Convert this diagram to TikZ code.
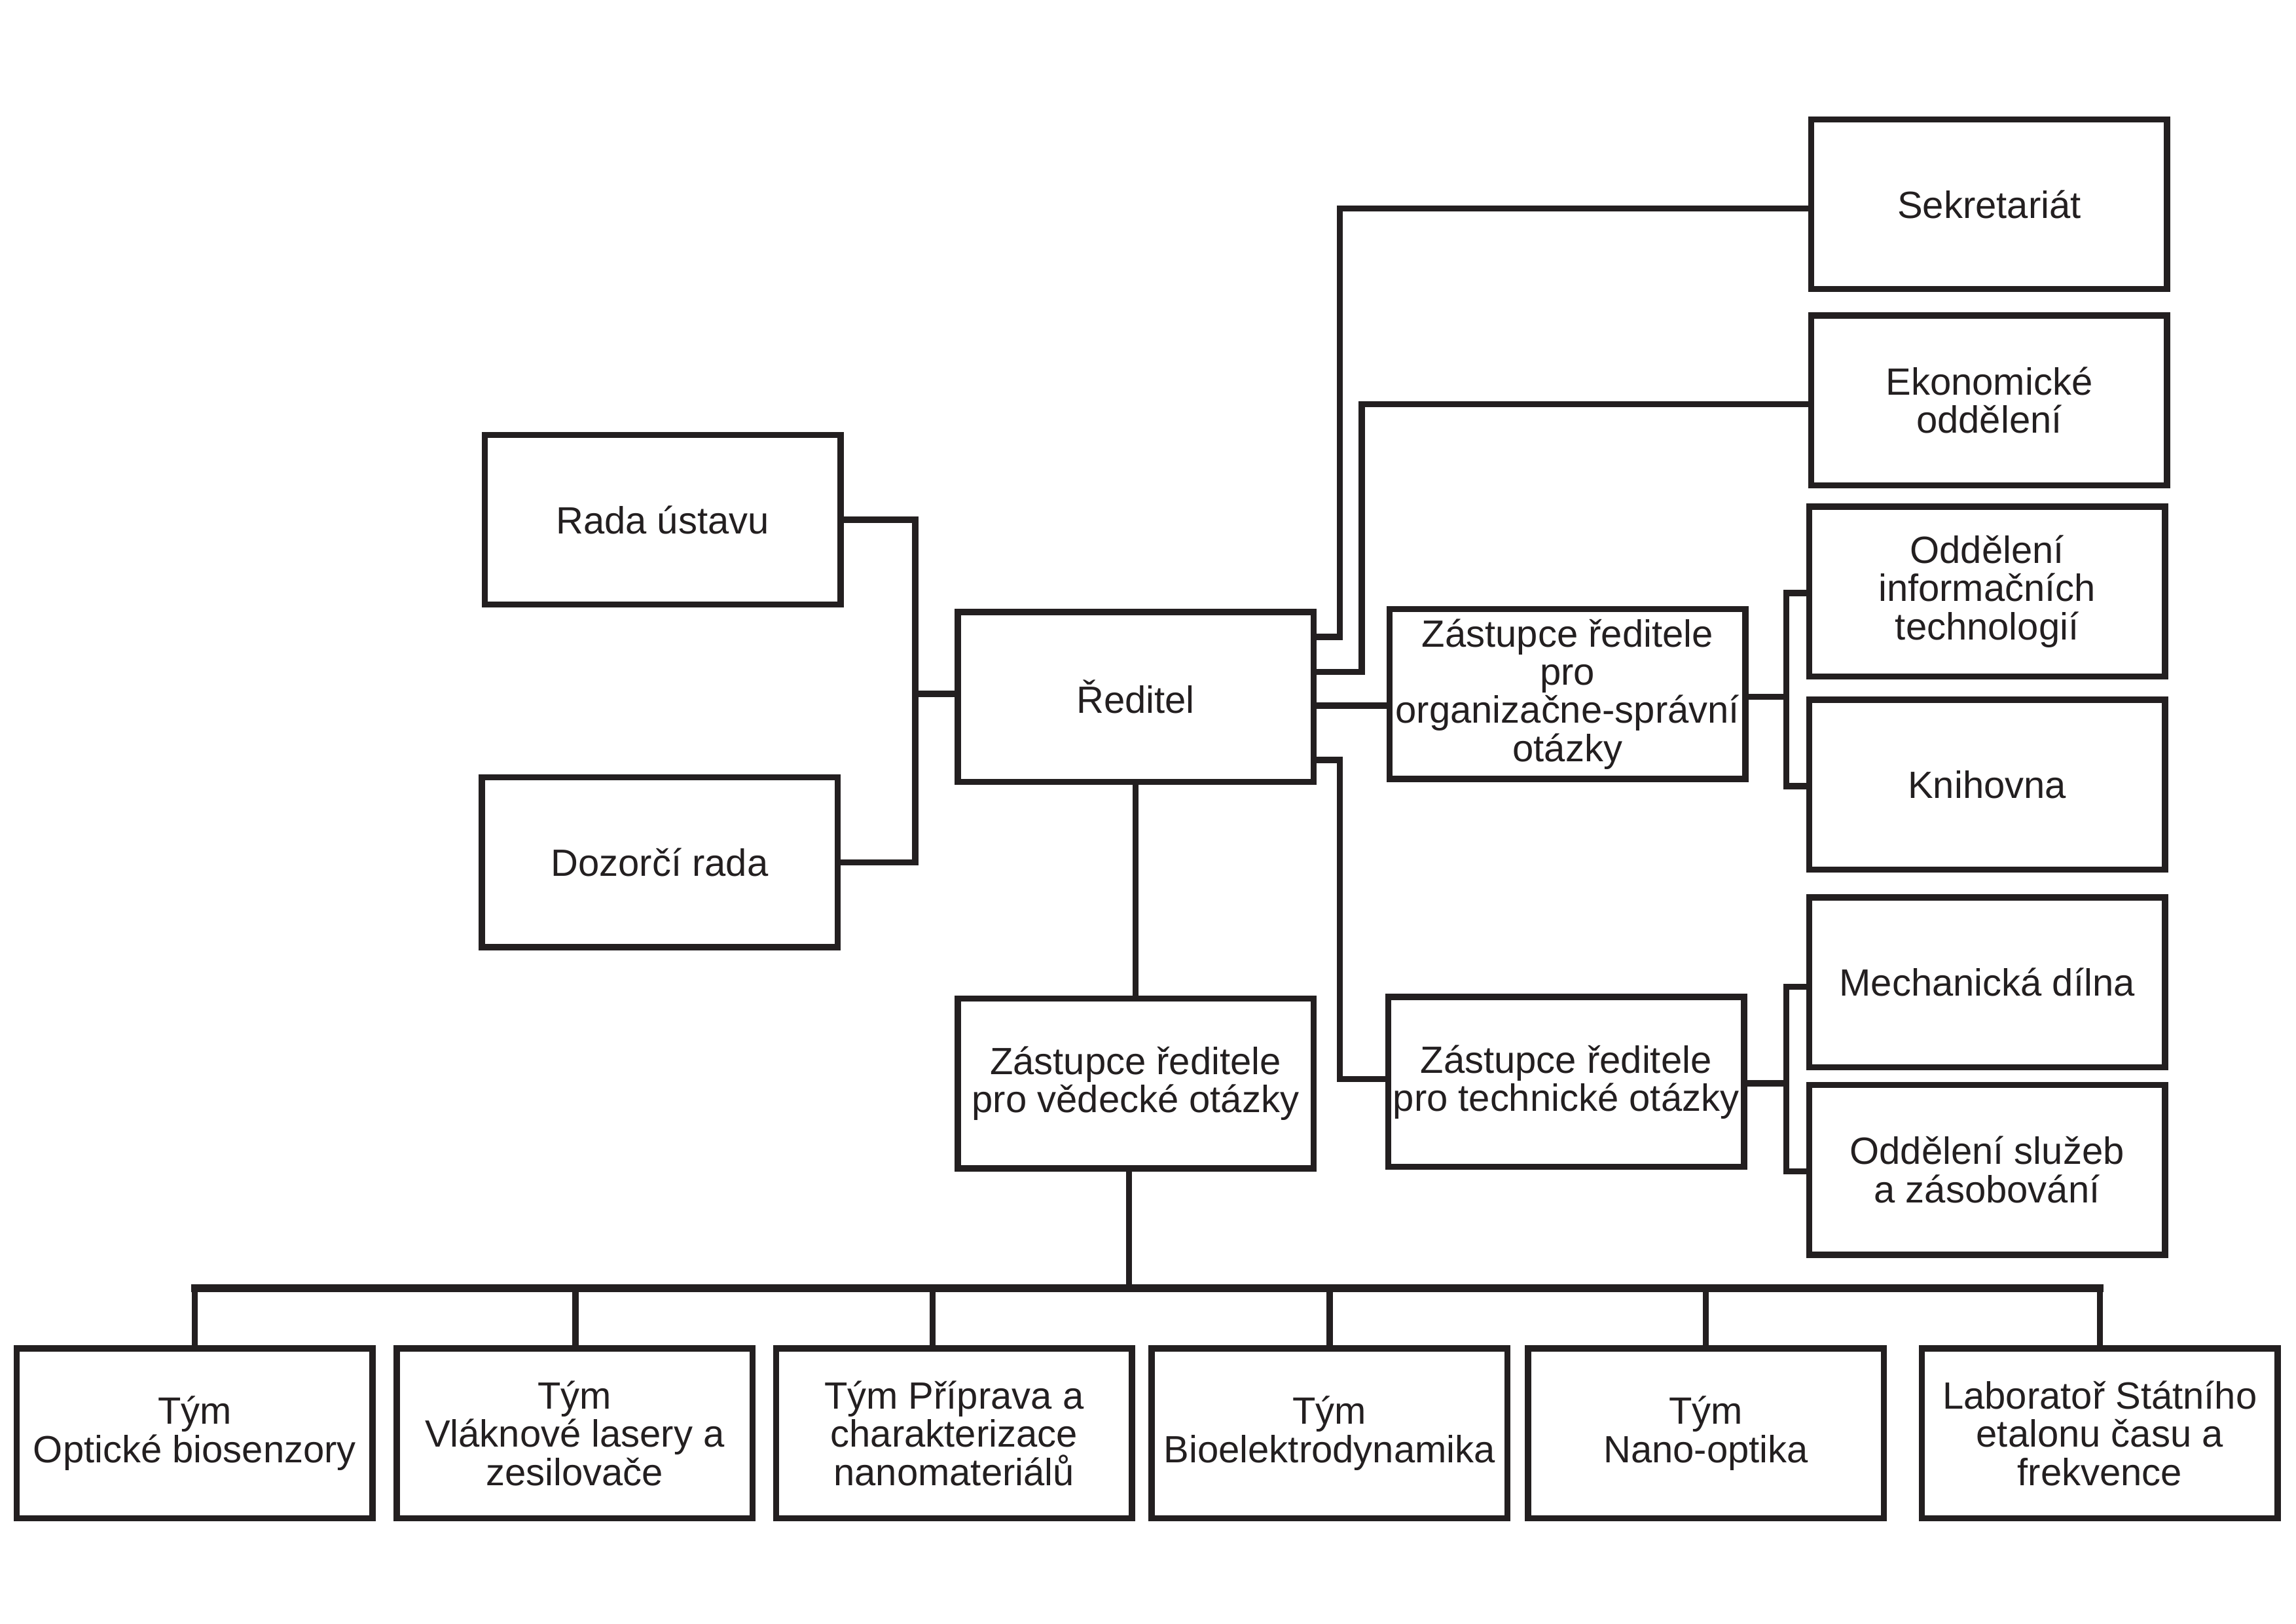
\documentclass[tikz,border=0pt]{standalone}
\usepackage{fontspec}
\setmainfont{Liberation Sans}
\def\pxu{0.022366cm}
\definecolor{ink}{HTML}{231F20}
\begin{document}
\begin{tikzpicture}[x=0.022366cm,y=-0.022366cm,
  box/.style={draw=ink,text=ink,line width=2.7pt,minimum width=243*\pxu,minimum height=116*\pxu,
    inner sep=0pt,align=center,font=\fontsize{16.5pt}{16.6pt}\selectfont},
  conn/.style={draw=ink,line width=2.7pt,line cap=rect,line join=miter},
  bus/.style={draw=ink,line width=3.3pt,line cap=rect}]
\useasboundingbox (0,0) rectangle (1568,1109);
\fill[white] (0,0) rectangle (1568,1109);

\node[box] (rada) at (452.5,355) {Rada ústavu};
\node[box] (dozor) at (450.5,589) {Dozorčí rada};
\node[box] (red) at (775.5,476) {Ředitel};
\node[box] (sekr) at (1358.5,139.5) {Sekretariát};
\node[box] (ekon) at (1358.5,273.5) {Ekonomické\\oddělení};
\node[box] (it) at (1357,404) {Oddělení\\informačních\\technologií};
\node[box] (knih) at (1357,536) {Knihovna};
\node[box] (mech) at (1357,671) {Mechanická dílna};
\node[box] (sluz) at (1357,799) {Oddělení služeb\\a zásobování};
\node[box] (zorg) at (1070.5,474) {Zástupce ředitele\\pro\\organizačne-správní\\otázky};
\node[box] (ztech) at (1069.5,739) {Zástupce ředitele\\pro technické otázky};
\node[box] (zved) at (775.5,740) {Zástupce ředitele\\pro vědecké otázky};
\node[box] (b1) at (133,979) {Tým\\Optické biosenzory};
\node[box] (b2) at (392.5,979) {Tým\\Vláknové lasery a\\zesilovače};
\node[box] (b3) at (651.5,979) {Tým Příprava a\\charakterizace\\nanomateriálů};
\node[box] (b4) at (908,979) {Tým\\Bioelektrodynamika};
\node[box] (b5) at (1165,979) {Tým\\Nano-optika};
\node[box] (b6) at (1434,979) {Laboratoř Státního\\etalonu času a\\frekvence};

% left councils
\coordinate (jl) at (625,474);
\draw[conn] (rada.east) -| (jl) |- (dozor.east);
\draw[conn] (jl) -- (red.west |- jl);

% right of director
\draw[conn] (red.east |- 0,435) -| (915,142.5) -- (sekr.west |- 0,142.5);
\draw[conn] (red.east |- 0,459) -| (930,276) -- (ekon.west |- 0,276);
\draw[conn] (red.east |- 0,482) -- (zorg.west |- 0,482);
\draw[conn] (red.east |- 0,519) -| (915,737) -- (ztech.west |- 0,737);

% org deputy
\coordinate (jo) at (1220,476);
\draw[conn] (zorg.east |- jo) -- (jo);
\draw[conn] (it.west |- 0,405) -| (jo) |- (knih.west |- 0,537);

% tech deputy
\coordinate (jt) at (1220,740);
\draw[conn] (ztech.east |- jt) -- (jt);
\draw[conn] (mech.west |- 0,674) -| (jt) |- (sluz.west |- 0,800);

% director to science deputy
\draw[conn] (red.south) -- (zved.north);

% science deputy to teams
\coordinate (jb) at (771,880);
\draw[conn] (zved.south -| jb) -- (jb);
\draw[bus] (b1.north |- jb) -- (b6.north |- jb);
\draw[conn] (b1.north |- jb) -- (b1.north);
\draw[conn] (393,880) -- (b2.north -| 393,0);
\draw[conn] (637,880) -- (b3.north -| 637,0);
\draw[conn] (b4.north |- jb) -- (b4.north);
\draw[conn] (b5.north |- jb) -- (b5.north);
\draw[conn] (b6.north |- jb) -- (b6.north);
\end{tikzpicture}
\end{document}
